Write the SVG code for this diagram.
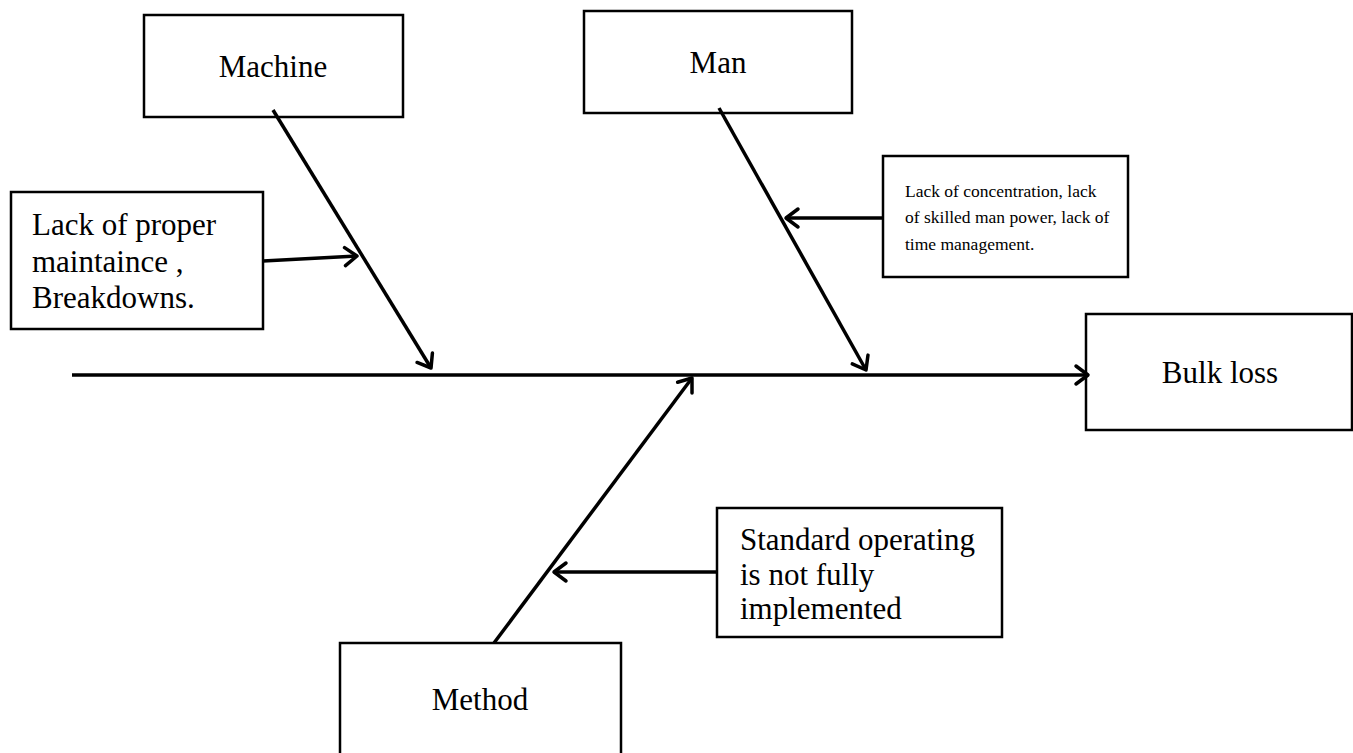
<svg xmlns="http://www.w3.org/2000/svg" width="1353" height="753" viewBox="0 0 1353 753">
<style>
.box{fill:#fff;stroke:#000;stroke-width:2.5}
.t{font-family:"Liberation Serif","Times New Roman",serif;font-size:31px;fill:#000}
.s{font-family:"Liberation Serif","Times New Roman",serif;font-size:17.5px;fill:#000}
.c{text-anchor:middle}
.ln{stroke:#000;stroke-width:3.5;fill:none}
</style>
<defs>
<marker id="arr" markerUnits="userSpaceOnUse" markerWidth="20" markerHeight="20" viewBox="-16 -10 20 20" refX="0" refY="0" orient="auto" overflow="visible">
<path d="M-12,-9 L0,0 L-12,9" fill="none" stroke="#000" stroke-width="3.5" stroke-linecap="round" stroke-linejoin="round"/>
</marker>
</defs>
<rect width="1353" height="753" fill="#fff"/>
<g id="machine"><rect class="box" x="144" y="15" width="259" height="102"/><text class="t c" x="273" y="77">Machine</text></g>
<g id="man"><rect class="box" x="584" y="11" width="268" height="102"/><text class="t c" x="718" y="73">Man</text></g>
<g id="bulk-loss"><rect class="box" x="1086" y="314" width="266" height="116"/><text class="t c" x="1220" y="383">Bulk loss</text></g>
<g id="method"><rect class="box" x="340" y="643" width="281" height="130"/><text class="t c" x="480" y="710">Method</text></g>
<g id="machine-cause"><rect class="box" x="11" y="192" width="252" height="137"/><text class="t" x="32" y="235">Lack of proper</text><text class="t" x="32" y="272">maintaince ,</text><text class="t" x="32" y="308">Breakdowns.</text></g>
<g id="man-cause"><rect class="box" x="883" y="156" width="245" height="121"/><text class="s" x="905" y="197">Lack of concentration, lack</text><text class="s" x="905" y="223">of skilled man power, lack of</text><text class="s" x="905" y="250">time management.</text></g>
<g id="method-cause"><rect class="box" x="717" y="508" width="285" height="129"/><text class="t" x="740" y="550">Standard operating</text><text class="t" x="740" y="585">is not fully</text><text class="t" x="740" y="619">implemented</text></g>
<g id="connectors">
<line class="ln" x1="72" y1="375" x2="1088" y2="375" marker-end="url(#arr)"/>
<line class="ln" x1="273" y1="110" x2="431" y2="368" marker-end="url(#arr)"/>
<line class="ln" x1="719" y1="108" x2="866" y2="370" marker-end="url(#arr)"/>
<line class="ln" x1="494" y1="643" x2="692" y2="378" marker-end="url(#arr)"/>
<line class="ln" x1="263" y1="261" x2="357" y2="256" marker-end="url(#arr)"/>
<line class="ln" x1="883" y1="218" x2="786" y2="218" marker-end="url(#arr)"/>
<line class="ln" x1="717" y1="572" x2="554" y2="572" marker-end="url(#arr)"/>
</g>
</svg>
